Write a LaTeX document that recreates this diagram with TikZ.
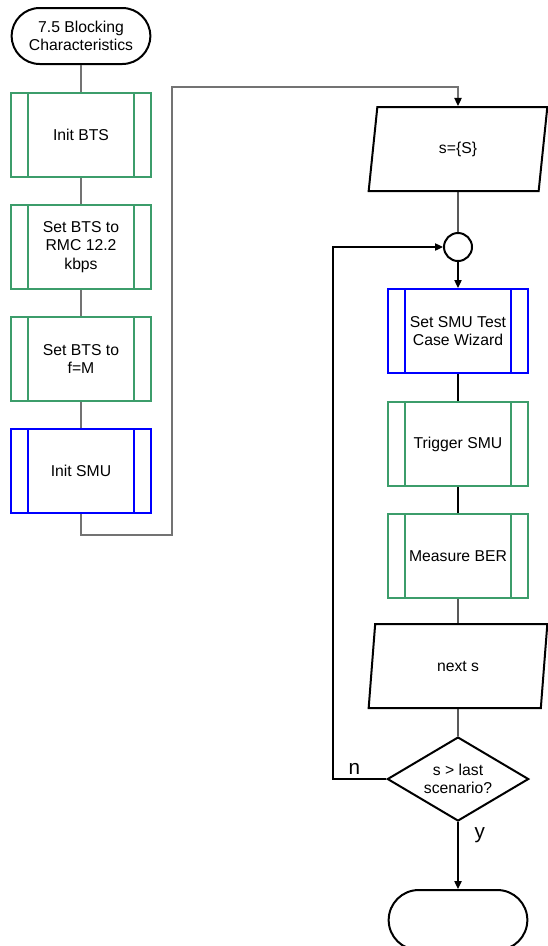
\documentclass[tikz,border=0pt]{standalone}
\usepackage{fontspec}
\setmainfont{Liberation Sans}
\usetikzlibrary{shapes.geometric,shapes.misc,arrows.meta,positioning}
\definecolor{btsgreen}{RGB}{60,157,107}

\begin{document}
\begin{tikzpicture}[
  x=0.75pt,y=-0.75pt,
  font=\fontsize{11.8}{14}\selectfont,
  node distance=19.5pt,
  term/.style={draw,rounded rectangle,line width=1.5pt,align=center,minimum width=106pt,minimum height=42pt,inner sep=1pt},
  proc/.style={draw=#1,line width=1.5pt,align=center,minimum width=105pt,minimum height=63pt,inner sep=1pt,
    path picture={
      \draw[#1,line width=1.5pt] ([xshift=12.75pt]path picture bounding box.north west) -- ([xshift=12.75pt]path picture bounding box.south west);
      \draw[#1,line width=1.5pt] ([xshift=-12.75pt]path picture bounding box.north east) -- ([xshift=-12.75pt]path picture bounding box.south east);}},
  btsbox/.style={proc=btsgreen},
  smubox/.style={proc=blue},
  io/.style={draw,trapezium,trapezium left angle=63.4,trapezium right angle=116.6,trapezium stretches body,
    line width=1.5pt,align=center,minimum width=134pt,minimum height=63pt,inner sep=1pt},
  dec/.style={draw,diamond,aspect=1.68,line width=1.5pt,align=center,minimum width=106pt,minimum height=63pt,inner sep=0pt},
  mergept/.style={draw,circle,line width=1.5pt,minimum size=21pt,inner sep=0pt},
  lnk/.style={draw=black!55,line width=0.9pt},
  wire/.style={draw=black,line width=0.9pt},
  arr/.style={-{Triangle[length=6pt,width=5.5pt,color=black]}},
  lab/.style={font=\fontsize{15.5}{18}\selectfont,inner sep=1pt}
]
\useasboundingbox (0,0) rectangle (548,946);

% ---------- BTS / SMU setup ----------
\node[term] (start) at (81,36) {7.5 Blocking\\Characteristics};
\node[btsbox,below=20.25pt of start] (initbts) {Init BTS};
\node[btsbox,below=of initbts] (rmc) {Set BTS to\\RMC 12.2\\kbps};
\node[btsbox,below=of rmc] (freq) {Set BTS to\\f=M};
\node[smubox,below=of freq] (initsmu) {Init SMU};
\draw[lnk] (start) -- (initbts);
\draw[lnk] (initbts) -- (rmc);
\draw[lnk] (rmc) -- (freq);
\draw[lnk] (freq) -- (initsmu);

% ---------- scenario loop ----------
\node[io] (sset) at (458,149) {s=\{S\}};
\node[mergept,below=30pt of sset] (merge) {};
\node[smubox,below=of merge] (wizard) {Set SMU Test\\Case Wizard};
\node[btsbox,below=20.25pt of wizard] (trigger) {Trigger SMU};
\node[btsbox,below=of trigger] (ber) {Measure BER};
\node[io,below=18pt of ber] (nexts) {next s};
\node[dec,below=20.25pt of nexts] (last) {s > last\\scenario?};
\node[term,below=50.25pt of last,minimum height=45pt] (stop) {};

\coordinate (jump) at (172,87);
\coordinate (back) at (333,0);
\draw[lnk,arr] (initsmu.south) -- ++(0,21) -| (jump) -| (sset.north);
\draw[wire] (sset) -- (merge);
\draw[wire,arr] (merge) -- (wizard);
\draw[wire] (wizard) -- (trigger);
\draw[wire] (trigger) -- (ber);
\draw[wire] (ber) -- (nexts);
\draw[wire] (nexts) -- (last);
\draw[wire,arr] (last.west) -- node[lab,above=2pt,pos=0.6] {n} (last.west -| back) |- (merge.west);
\draw[wire,arr] (last.south) -- node[lab,right=11pt,pos=0.2] {y} (stop.north);

\end{tikzpicture}
\end{document}
